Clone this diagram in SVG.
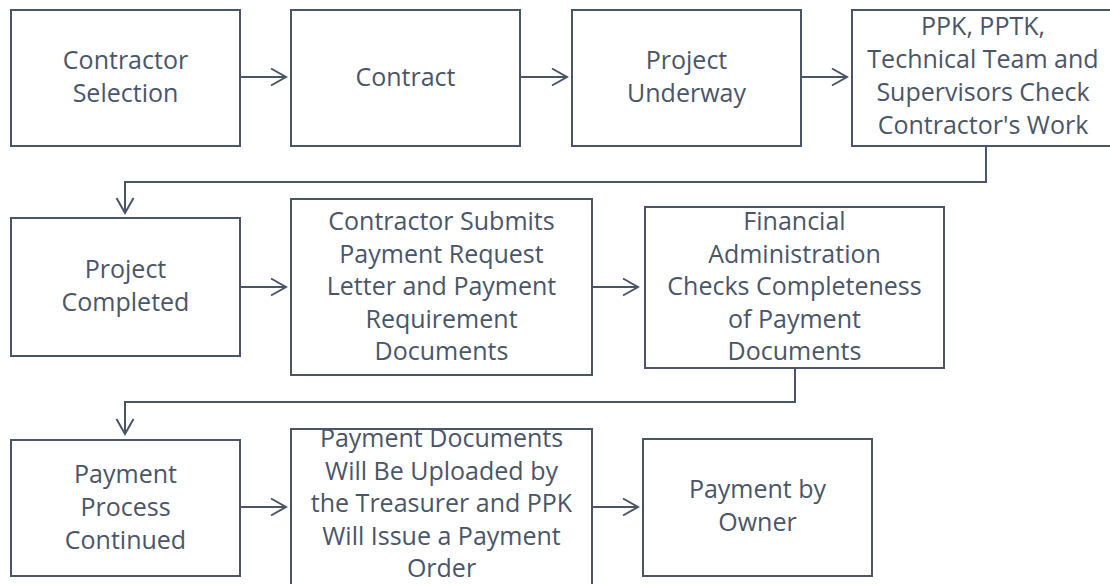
<svg xmlns="http://www.w3.org/2000/svg" width="1110" height="584" viewBox="0 0 1110 584">
  <defs>
    <style>
      .box { fill: #ffffff; stroke: #4a5668; stroke-width: 2; }
      .lbl { font-family: "Open Sans", "Liberation Sans", sans-serif; font-size: 25px; fill: #4a5668; text-anchor: middle; }
      .wire { fill: none; stroke: #4a5668; stroke-width: 2; }
    </style>
    <marker id="chev" markerUnits="userSpaceOnUse" viewBox="-17 -10 19 20" refX="0" refY="0" markerWidth="19" markerHeight="20" orient="auto">
      <path d="M-15,-8.5 L0,0 L-15,8.5" fill="none" stroke="#4a5668" stroke-width="2"/>
    </marker>
  </defs>
  <rect width="1110" height="584" fill="#ffffff"/>

  <!-- connectors -->
  <g id="connectors" class="wire" marker-end="url(#chev)">
    <path d="M240,77 H286"/>
    <path d="M520,77 H567"/>
    <path d="M801,77 H847"/>
    <path d="M986,146 V182 H125 V213"/>
    <path d="M240,287 H286"/>
    <path d="M592,287 H638"/>
    <path d="M795,368 V402 H125 V434"/>
    <path d="M240,507 H286"/>
    <path d="M592,507 H638"/>
  </g>

  <!-- row 1 -->
  <g id="contractor-selection">
    <rect class="box" x="11" y="10" width="229" height="136"/>
    <text class="lbl" x="125.5" y="69">Contractor</text>
    <text class="lbl" x="125.5" y="102">Selection</text>
  </g>
  <g id="contract">
    <rect class="box" x="291" y="10" width="229" height="136"/>
    <text class="lbl" x="405.5" y="86">Contract</text>
  </g>
  <g id="project-underway">
    <rect class="box" x="572" y="10" width="229" height="136"/>
    <text class="lbl" x="686.5" y="69">Project</text>
    <text class="lbl" x="686.5" y="102">Underway</text>
  </g>
  <g id="work-check">
    <rect class="box" x="852" y="10" width="262" height="136"/>
    <text class="lbl" x="983" y="35">PPK, PPTK,</text>
    <text class="lbl" x="983" y="68">Technical Team and</text>
    <text class="lbl" x="983" y="101">Supervisors Check</text>
    <text class="lbl" x="983" y="134">Contractor's Work</text>
  </g>

  <!-- row 2 -->
  <g id="project-completed">
    <rect class="box" x="11" y="218" width="229" height="138"/>
    <text class="lbl" x="125.5" y="278">Project</text>
    <text class="lbl" x="125.5" y="311">Completed</text>
  </g>
  <g id="payment-request">
    <rect class="box" x="291" y="199" width="301" height="176"/>
    <text class="lbl" x="441.5" y="230">Contractor Submits</text>
    <text class="lbl" x="441.5" y="262.5">Payment Request</text>
    <text class="lbl" x="441.5" y="295">Letter and Payment</text>
    <text class="lbl" x="441.5" y="327.5">Requirement</text>
    <text class="lbl" x="441.5" y="360">Documents</text>
  </g>
  <g id="financial-check">
    <rect class="box" x="645" y="207" width="299" height="161"/>
    <text class="lbl" x="794.5" y="230">Financial</text>
    <text class="lbl" x="794.5" y="262.5">Administration</text>
    <text class="lbl" x="794.5" y="295">Checks Completeness</text>
    <text class="lbl" x="794.5" y="327.5">of Payment</text>
    <text class="lbl" x="794.5" y="360">Documents</text>
  </g>

  <!-- row 3 -->
  <g id="payment-continued">
    <rect class="box" x="11" y="440" width="229" height="136"/>
    <text class="lbl" x="125.5" y="483">Payment</text>
    <text class="lbl" x="125.5" y="516">Process</text>
    <text class="lbl" x="125.5" y="549">Continued</text>
  </g>
  <g id="payment-upload">
    <rect class="box" x="291" y="429" width="301" height="170"/>
    <text class="lbl" x="441.5" y="447">Payment Documents</text>
    <text class="lbl" x="441.5" y="479.5">Will Be Uploaded by</text>
    <text class="lbl" x="441.5" y="512">the Treasurer and PPK</text>
    <text class="lbl" x="441.5" y="544.5">Will Issue a Payment</text>
    <text class="lbl" x="441.5" y="577">Order</text>
  </g>
  <g id="payment-owner">
    <rect class="box" x="643" y="439" width="229" height="137"/>
    <text class="lbl" x="757.5" y="498">Payment by</text>
    <text class="lbl" x="757.5" y="531">Owner</text>
  </g>
</svg>
